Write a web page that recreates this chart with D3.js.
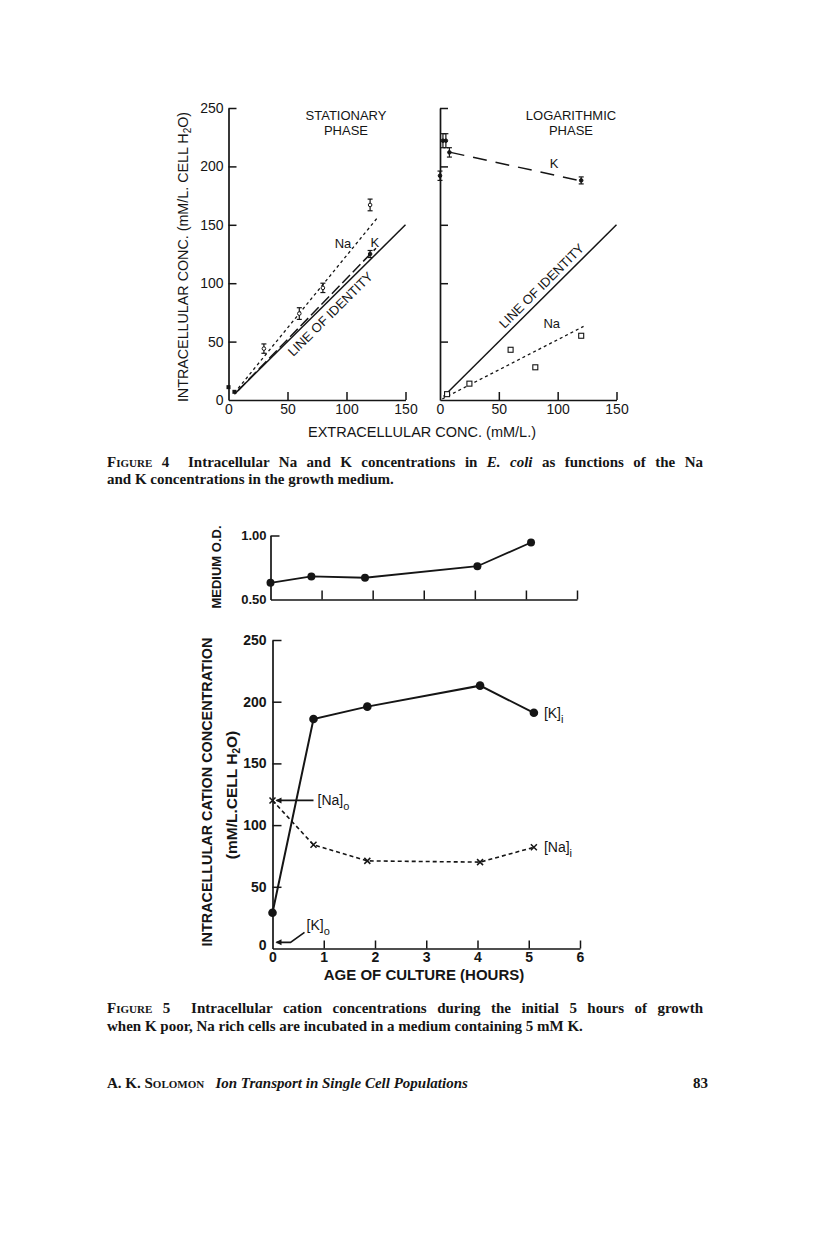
<!DOCTYPE html>
<html>
<head>
<meta charset="utf-8">
<title>Figures 4 and 5</title>
<script src="https://d3js.org/d3.v7.min.js"></script>
<style>
  body { margin: 0; background: #fff; }
  svg { display: block; }
</style>
</head>
<body>
<svg width="816" height="1234" id="mainSvg"></svg>
<script>
// ---------- data ----------
const concTicks = [0, 50, 100, 150];
const intraTicks = [0, 50, 100, 150, 200, 250];

// stationary phase: [extracellular, intracellular, error]
const statNa = [[30, 44, 4], [60, 74, 5], [80, 96, 4], [120, 167, 5]];
const statK = [[120, 125, 3]];
const statOrigin = [[0, 11], [5, 7]];
const statNaFit = [[5, 6], [127, 157]];
const statKFit = [[8, 8], [125, 130]];
const identity = [[5, 5], [150, 150]];

// logarithmic phase
const logK = [[0, 192, 4], [2.5, 222, 6], [5, 222, 6], [8, 212, 4], [120, 188, 3]];
const logNa = [[6, 5], [25, 14], [60, 43], [81, 28], [120, 55]];
const logKFit = [[9, 212], [118, 188]];
const logNaFit = [[2, 1], [122, 63]];
const logIdentity = [[3, 3], [150, 150]];

// figure 5
const hours = [0, 0.8, 1.85, 4.05, 5.1];
const mediumOD = [0.63, 0.68, 0.67, 0.76, 0.945];
const kInside = [29, 186, 196, 213, 191];
const naInside = [120, 84, 71, 70, 82];
const naOutside = 120;
const kOutside = 5;
const hourTicks = [0, 1, 2, 3, 4, 5, 6];
const odTicks = [0.5, 1.0];

const svg = d3.select('#mainSvg');
const SANS = '"Liberation Sans", Arial, sans-serif';
const SERIF = '"Liberation Serif", "Times New Roman", serif';
const INK = '#151515';
const CAP = 15;

// ---------- scales ----------
const xL = d3.scaleLinear().domain([0, 150]).range([228.5, 405.5]);
const xR = d3.scaleLinear().domain([0, 150]).range([440, 616.5]);
const y4 = d3.scaleLinear().domain([0, 250]).range([400, 108]);

const xTop = d3.scaleLinear().domain([0, 6]).range([270.5, 577]);
const yOD = d3.scaleLinear().domain([0.5, 1.0]).range([599.5, 535.5]);
const xBot = d3.scaleLinear().domain([0, 6]).range([272.5, 580]);
const yBot = d3.scaleLinear().domain([0, 250]).range([948.5, 640]);

// ---------- helpers ----------
const styleAxis = function (g, fontSize, weight) {
  g.attr('font-family', SANS).attr('font-size', fontSize).attr('font-weight', weight || 'normal');
  g.select('.domain').attr('stroke', INK).attr('stroke-width', 1.7);
  g.selectAll('.tick line').attr('stroke', INK).attr('stroke-width', 1.5);
  g.selectAll('.tick text').attr('fill', INK);
  g.selectAll('.tick').filter(d => d === 0 || d === 0.5).select('line').remove();
};

const line = (xs, ys) => d3.line().x(d => xs(d[0])).y(d => ys(d[1]));

const errorBars = function (g, data, xs, ys, filled) {
  const grp = g.append('g');
  data.forEach(d => {
    const cx = xs(d[0]);
    grp.append('line').attr('x1', cx).attr('x2', cx)
      .attr('y1', ys(d[1] - d[2])).attr('y2', ys(d[1] + d[2]))
      .attr('stroke', INK).attr('stroke-width', 1.2);
    [d[1] - d[2], d[1] + d[2]].forEach(v => {
      grp.append('line').attr('x1', cx - 2.5).attr('x2', cx + 2.5)
        .attr('y1', ys(v)).attr('y2', ys(v))
        .attr('stroke', INK).attr('stroke-width', 1.2);
    });
    grp.append('circle').attr('cx', cx).attr('cy', ys(d[1])).attr('r', 1.8)
      .attr('fill', filled ? INK : '#fff').attr('stroke', INK).attr('stroke-width', 1);
  });
};

const text = function (x, y, str, size, opts) {
  opts = opts || {};
  return svg.append('text').attr('x', x).attr('y', y)
    .attr('font-family', opts.family || SANS).attr('font-size', size)
    .attr('font-weight', opts.weight || 'normal')
    .attr('text-anchor', opts.anchor || 'start')
    .attr('fill', INK).text(str);
};

// spread a caption line to full measure by widening the word gaps
const justify = function (sel, width) {
  const natural = sel.node().getComputedTextLength();
  const gaps = (sel.text().match(/[ \u00a0]/g) || []).length;
  if (gaps > 0 && natural < width) sel.style('word-spacing', ((width - natural) / gaps) + 'px');
};

// ================= FIGURE 4 =================
const f4 = svg.append('g');

// left panel axes
f4.append('g').attr('transform', `translate(${xL(0)},0)`)
  .call(d3.axisLeft(y4).tickValues(intraTicks).tickSizeInner(-8).tickSizeOuter(0).tickPadding(5))
  .call(g => styleAxis(g, 14));
f4.append('g').attr('transform', `translate(0,${y4(0)})`)
  .call(d3.axisBottom(xL).tickValues(concTicks).tickSizeInner(-8).tickSizeOuter(0).tickPadding(4))
  .call(g => styleAxis(g, 14));

// right panel axes
f4.append('g').attr('transform', `translate(${xR(0)},0)`)
  .call(d3.axisLeft(y4).tickValues(intraTicks).tickSizeInner(-8).tickSizeOuter(0).tickFormat(''))
  .call(g => styleAxis(g, 14));
f4.append('g').attr('transform', `translate(0,${y4(0)})`)
  .call(d3.axisBottom(xR).tickValues(concTicks).tickSizeInner(-8).tickSizeOuter(0).tickPadding(4))
  .call(g => styleAxis(g, 14));

// left panel lines
f4.append('path').attr('d', line(xL, y4)(identity)).attr('fill', 'none')
  .attr('stroke', INK).attr('stroke-width', 1.5);
f4.append('path').attr('d', line(xL, y4)(statKFit)).attr('fill', 'none')
  .attr('stroke', INK).attr('stroke-width', 1.5).attr('stroke-dasharray', '11,4');
f4.append('path').attr('d', line(xL, y4)(statNaFit)).attr('fill', 'none')
  .attr('stroke', INK).attr('stroke-width', 1.3).attr('stroke-dasharray', '3,3');
errorBars(f4, statNa, xL, y4, false);
errorBars(f4, statK, xL, y4, true);
f4.selectAll('.origSq').data(statOrigin).join('rect').attr('class', 'origSq')
  .attr('x', d => xL(d[0]) - 2).attr('y', d => y4(d[1]) - 2)
  .attr('width', 4).attr('height', 4).attr('fill', INK);

// right panel lines
f4.append('path').attr('d', line(xR, y4)(logIdentity)).attr('fill', 'none')
  .attr('stroke', INK).attr('stroke-width', 1.5);
f4.append('path').attr('d', line(xR, y4)(logKFit)).attr('fill', 'none')
  .attr('stroke', INK).attr('stroke-width', 1.5).attr('stroke-dasharray', '14,9');
f4.append('path').attr('d', line(xR, y4)(logNaFit)).attr('fill', 'none')
  .attr('stroke', INK).attr('stroke-width', 1.3).attr('stroke-dasharray', '3,3');
errorBars(f4, logK, xR, y4, true);
f4.selectAll('.logNa').data(logNa).join('rect').attr('class', 'logNa')
  .attr('x', d => xR(d[0]) - 2.5).attr('y', d => y4(d[1]) - 2.5)
  .attr('width', 5).attr('height', 5).attr('fill', '#fff')
  .attr('stroke', INK).attr('stroke-width', 1.1);

// panel titles and curve labels
text(346, 120, 'STATIONARY', 13, { anchor: 'middle' });
text(346, 135, 'PHASE', 13, { anchor: 'middle' });
text(571, 120, 'LOGARITHMIC', 13, { anchor: 'middle' });
text(571, 135, 'PHASE', 13, { anchor: 'middle' });
text(xL(97), y4(130), 'Na', 13, { anchor: 'middle' });
text(xL(124), y4(131), 'K', 13, { anchor: 'middle' });
text(xR(97), y4(199), 'K', 13, { anchor: 'middle' });
text(xR(95), y4(62), 'Na', 13, { anchor: 'middle' });

const identityAngle = Math.atan2(y4(150) - y4(0), xL(150) - xL(0)) * 180 / Math.PI;
svg.append('text').attr('font-family', SANS).attr('font-size', 13).attr('fill', INK)
  .attr('text-anchor', 'middle').attr('dy', 15)
  .attr('transform', `translate(${xL(80)},${y4(80)}) rotate(${identityAngle})`)
  .text('LINE OF IDENTITY');
const identityAngleR = Math.atan2(y4(150) - y4(0), xR(150) - xR(0)) * 180 / Math.PI;
svg.append('text').attr('font-family', SANS).attr('font-size', 13).attr('fill', INK)
  .attr('text-anchor', 'middle').attr('dy', -5)
  .attr('transform', `translate(${xR(92)},${y4(92)}) rotate(${identityAngleR})`)
  .text('LINE OF IDENTITY');

// axis titles
const y4Label = svg.append('text').attr('font-family', SANS).attr('font-size', 14.3).attr('fill', INK)
  .attr('text-anchor', 'middle').attr('transform', 'translate(188,257) rotate(-90)');
y4Label.append('tspan').text('INTRACELLULAR CONC. (mM/L. CELL H');
y4Label.append('tspan').attr('font-size', 10).attr('dy', 3).text('2');
y4Label.append('tspan').attr('dy', -3).text('O)');
text(422, 437, 'EXTRACELLULAR CONC. (mM/L.)', 14.5, { anchor: 'middle' });

// caption 4
const cap4a = svg.append('text').attr('x', 107).attr('y', 467).attr('font-family', SERIF)
  .attr('font-size', CAP).attr('font-weight', 'bold').attr('fill', INK);
cap4a.append('tspan').attr('font-variant', 'small-caps').text('Figure 4');
cap4a.append('tspan').text('\u00a0\u00a0Intracellular Na and K concentrations in ');
cap4a.append('tspan').attr('font-style', 'italic').text('E. coli');
cap4a.append('tspan').text(' as functions of the Na');
justify(cap4a, 596);
text(107, 484, 'and K concentrations in the growth medium.', CAP, { family: SERIF, weight: 'bold' });

// ================= FIGURE 5 =================
const f5 = svg.append('g');

// top panel: medium O.D.
f5.append('g').attr('transform', `translate(${xTop(0)},0)`)
  .call(d3.axisLeft(yOD).tickValues(odTicks).tickSizeInner(-9).tickSizeOuter(0).tickPadding(4)
    .tickFormat(d3.format('.2f')))
  .call(g => styleAxis(g, 13, 'bold'));
f5.append('g').attr('transform', `translate(0,${yOD(0.5)})`)
  .call(d3.axisBottom(xTop).tickValues(hourTicks).tickSizeInner(-9).tickSizeOuter(0).tickFormat(''))
  .call(g => styleAxis(g, 13));
const odData = hours.map((h, i) => [h, mediumOD[i]]);
f5.append('path').attr('d', line(xTop, yOD)(odData)).attr('fill', 'none')
  .attr('stroke', INK).attr('stroke-width', 1.8);
f5.selectAll('.odDot').data(odData).join('circle').attr('class', 'odDot')
  .attr('cx', d => xTop(d[0])).attr('cy', d => yOD(d[1])).attr('r', 4).attr('fill', INK);

// bottom panel: cation concentrations
f5.append('g').attr('transform', `translate(${xBot(0)},0)`)
  .call(d3.axisLeft(yBot).tickValues(intraTicks).tickSizeInner(-9).tickSizeOuter(0).tickPadding(6))
  .call(g => styleAxis(g, 14, 'bold'))
  .call(g => g.selectAll('.tick').filter(d => d === 0).select('text').attr('dy', '0.05em'));
f5.append('g').attr('transform', `translate(0,${yBot(0)})`)
  .call(d3.axisBottom(xBot).tickValues(hourTicks).tickSizeInner(-8).tickSizeOuter(0).tickPadding(4)
    .tickFormat(d3.format('d')))
  .call(g => styleAxis(g, 14, 'bold'));

const kData = hours.map((h, i) => [h, kInside[i]]);
const naData = hours.map((h, i) => [h, naInside[i]]);
f5.append('path').attr('d', line(xBot, yBot)(kData)).attr('fill', 'none')
  .attr('stroke', INK).attr('stroke-width', 2);
f5.selectAll('.kDot').data(kData).join('circle').attr('class', 'kDot')
  .attr('cx', d => xBot(d[0])).attr('cy', d => yBot(d[1])).attr('r', 4.3).attr('fill', INK);
f5.append('path').attr('d', line(xBot, yBot)(naData)).attr('fill', 'none')
  .attr('stroke', INK).attr('stroke-width', 1.6).attr('stroke-dasharray', '4,3');
f5.selectAll('.naX').data(naData).join('path').attr('class', 'naX')
  .attr('d', d => {
    const cx = xBot(d[0]), cy = yBot(d[1]), s = 3;
    return `M${cx - s},${cy - s}L${cx + s},${cy + s}M${cx - s},${cy + s}L${cx + s},${cy - s}`;
  })
  .attr('stroke', INK).attr('stroke-width', 1.5);

// arrows for external concentrations
const arrowHead = (x, y) => `M${x},${y}L${x + 6},${y - 3}L${x + 6},${y + 3}Z`;
f5.append('line').attr('x1', xBot(0) + 4).attr('x2', xBot(0) + 41)
  .attr('y1', yBot(naOutside)).attr('y2', yBot(naOutside))
  .attr('stroke', INK).attr('stroke-width', 1.6);
f5.append('path').attr('d', arrowHead(xBot(0) + 3, yBot(naOutside))).attr('fill', INK);
f5.append('path')
  .attr('d', `M${xBot(0) + 4},${yBot(kOutside)}H${xBot(0) + 18}L${xBot(0) + 32},${yBot(kOutside) - 10}`)
  .attr('fill', 'none').attr('stroke', INK).attr('stroke-width', 1.6);
f5.append('path').attr('d', arrowHead(xBot(0) + 3, yBot(kOutside))).attr('fill', INK);

const subLabel = function (x, y, main, sub) {
  const t = svg.append('text').attr('x', x).attr('y', y).attr('font-family', SANS)
    .attr('font-size', 14).attr('fill', INK);
  t.append('tspan').text(main);
  t.append('tspan').attr('font-size', 11).attr('dy', 5).text(sub);
};
subLabel(xBot(0) + 45, yBot(naOutside) + 5, '[Na]', 'o');
subLabel(xBot(0) + 34, yBot(kOutside) - 12, '[K]', 'o');
subLabel(xBot(5.1) + 10, yBot(191) + 5, '[K]', 'i');
subLabel(xBot(5.1) + 10, yBot(82) + 5, '[Na]', 'i');

// axis titles
text(0, 0, 'MEDIUM O.D.', 13, { weight: 'bold', anchor: 'middle' })
  .attr('transform', 'translate(221,567) rotate(-90)');
text(0, 0, 'INTRACELLULAR CATION CONCENTRATION', 14.4, { weight: 'bold', anchor: 'middle' })
  .attr('transform', 'translate(212,792) rotate(-90)');
const y5b = svg.append('text').attr('font-family', SANS).attr('font-size', 15.5).attr('font-weight', 'bold')
  .attr('fill', INK).attr('text-anchor', 'middle').attr('transform', 'translate(237,795) rotate(-90)');
y5b.append('tspan').text('(mM/L.CELL H');
y5b.append('tspan').attr('font-size', 10).attr('dy', 3).text('2');
y5b.append('tspan').attr('dy', -3).text('O)');
text(424, 980, 'AGE OF CULTURE (HOURS)', 15, { weight: 'bold', anchor: 'middle' });

// caption 5
const cap5a = svg.append('text').attr('x', 107).attr('y', 1013).attr('font-family', SERIF)
  .attr('font-size', CAP).attr('font-weight', 'bold').attr('fill', INK);
cap5a.append('tspan').attr('font-variant', 'small-caps').text('Figure 5');
cap5a.append('tspan').text('\u00a0\u00a0Intracellular cation concentrations during the initial 5 hours of growth');
justify(cap5a, 596);
text(107, 1031, 'when K poor, Na rich cells are incubated in a medium containing 5 mM K.', CAP,
  { family: SERIF, weight: 'bold' });

// running footer
const foot = svg.append('text').attr('x', 107).attr('y', 1088).attr('font-family', SERIF)
  .attr('font-size', CAP).attr('font-weight', 'bold').attr('fill', INK);
foot.append('tspan').attr('font-variant', 'small-caps').text('A. K. Solomon');
foot.append('tspan').attr('font-style', 'italic').text('\u00a0\u00a0\u00a0Ion Transport in Single Cell Populations');
text(708, 1088, '83', CAP, { family: SERIF, weight: 'bold', anchor: 'end' });
</script>
</body>
</html>
